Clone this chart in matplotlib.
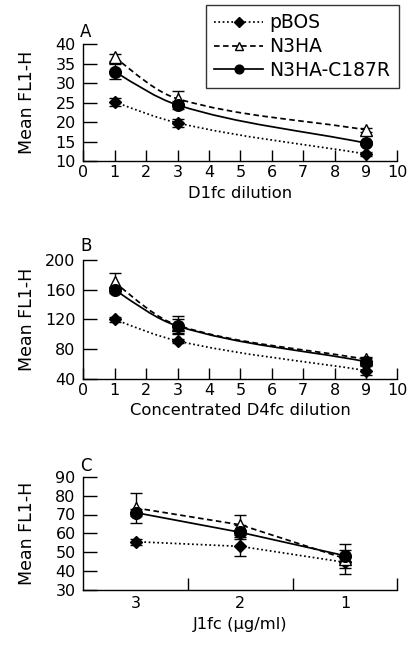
import matplotlib
matplotlib.use("Agg")
import matplotlib.pyplot as plt
import numpy as np
from matplotlib.path import Path
from matplotlib.patches import PathPatch
from matplotlib.lines import Line2D

plt.rcParams['font.family'] = ['DejaVu Sans']

series_names = ["pBOS", "N3HA", "N3HA-C187R"]

# Panel A
a_x = [1, 3, 9]
a_pbos = [25.2, 19.8, 11.8]
a_pbos_err = [1.1, 1.0, 0.6]
a_n3ha = [36.7, 26.0, 18.0]
a_n3ha_err = [0.9, 1.9, 0.5]
a_c187r = [33.0, 24.4, 14.6]
a_c187r_err = [1.9, 1.0, 0.6]

# Panel B
b_x = [1, 3, 9]
b_pbos = [120, 91, 51]
b_pbos_err = [3, 3, 6]
b_n3ha = [170, 112, 66]
b_n3ha_err = [12, 12, 3]
b_c187r = [160, 111, 63]
b_c187r_err = [4, 10, 5]

# Panel C
c_labels = ["3", "2", "1"]
c_pbos = [55.5, 53.0, 44.5]
c_pbos_err = [1.5, 5.1, 3.0]
c_n3ha = [73.5, 64.5, 46.5]
c_n3ha_err = [8.0, 5.2, 8.0]
c_c187r = [71.0, 60.5, 48.0]
c_c187r_err = [2.0, 3.8, 3.0]

styles = {
    "pBOS": dict(ls=(0, (1.0, 1.5)), marker='D', ms=6.3, mfc='black'),
    "N3HA": dict(ls=(0, (3.2, 2.0)), marker='^', ms=8, mfc='white'),
    "N3HA-C187R": dict(ls='-', marker='o', ms=8.4, mfc='black'),
}

W, H = 409, 652
fig = plt.figure(figsize=(W / 100, H / 100), dpi=100)

LW = 1.25
TICK_FS = 11.5
LABEL_FS = 11.8


def ax_rect(left, right, top, bottom):
    return [left / W, 1 - bottom / H, (right - left) / W, (bottom - top) / H]


def smooth_path(x, y):
    x = np.asarray(x, float)
    y = np.asarray(y, float)
    h = np.diff(x)
    d = np.diff(y) / h
    m = np.zeros_like(y)
    for i in range(1, len(x) - 1):
        w1 = 2 * h[i] + h[i - 1]
        w2 = h[i] + 2 * h[i - 1]
        m[i] = (w1 + w2) / (w1 / d[i - 1] + w2 / d[i])
    m0 = ((2 * h[0] + h[1]) * d[0] - h[0] * d[1]) / (h[0] + h[1])
    if np.sign(m0) != np.sign(d[0]):
        m0 = 0
    m[0] = m0
    m[-1] = d[-1]
    verts = [(x[0], y[0])]
    codes = [Path.MOVETO]
    for i in range(len(x) - 1):
        verts += [(x[i] + h[i] / 3, y[i] + m[i] * h[i] / 3),
                  (x[i + 1] - h[i] / 3, y[i + 1] - m[i + 1] * h[i] / 3),
                  (x[i + 1], y[i + 1])]
        codes += [Path.CURVE4] * 3
    return Path(verts, codes)


def draw_series(ax, x, y, err, name, smooth):
    st = styles[name]
    if smooth:
        ax.add_patch(PathPatch(smooth_path(x, y), fill=False, edgecolor='black',
                               lw=LW, ls=st['ls'], zorder=2))
    else:
        ax.plot(x, y, color='black', lw=LW, ls=st['ls'], zorder=2)
    ax.errorbar(x, y, yerr=err, fmt='none', ecolor='black', elinewidth=1.0,
                capsize=4.5, capthick=1.0, zorder=3)
    ax.plot(x, y, ls='none', marker=st['marker'], ms=st['ms'], mfc=st['mfc'],
            mec='black', mew=1.0, zorder=4)


def style_axes(ax):
    for s in ['top', 'right']:
        ax.spines[s].set_visible(False)
    for s in ['left', 'bottom']:
        ax.spines[s].set_linewidth(1.0)
    ax.tick_params(axis='y', direction='in', length=10, width=1.0, pad=5.5, labelsize=TICK_FS)
    ax.tick_params(axis='x', direction='in', length=8, width=1.0, pad=3, labelsize=TICK_FS)


# Panel A
axA = fig.add_axes(ax_rect(83.3, 397.4, 44.3, 161))
for name, y, e in zip(series_names, [a_pbos, a_n3ha, a_c187r], [a_pbos_err, a_n3ha_err, a_c187r_err]):
    draw_series(axA, a_x, y, e, name, True)
axA.set_xlim(0, 10)
axA.set_ylim(10, 40)
axA.set_xticks(range(0, 11))
axA.set_yticks(range(10, 41, 5))
style_axes(axA)
axA.set_xlabel("D1fc dilution", fontsize=LABEL_FS, labelpad=4)

# Panel B
axB = fig.add_axes(ax_rect(83.3, 397.4, 260, 378.7))
for name, y, e in zip(series_names, [b_pbos, b_n3ha, b_c187r], [b_pbos_err, b_n3ha_err, b_c187r_err]):
    draw_series(axB, b_x, y, e, name, True)
axB.set_xlim(0, 10)
axB.set_ylim(40, 200)
axB.set_xticks(range(0, 11))
axB.set_yticks(range(40, 201, 40))
style_axes(axB)
axB.set_xlabel("Concentrated D4fc dilution", fontsize=LABEL_FS, labelpad=4)

# Panel C
axC = fig.add_axes(ax_rect(83.3, 397.4, 477, 589.5))
c_pos = np.arange(len(c_labels)) + 0.5
for name, y, e in zip(series_names, [c_pbos, c_n3ha, c_c187r], [c_pbos_err, c_n3ha_err, c_c187r_err]):
    draw_series(axC, c_pos, y, e, name, False)
axC.set_xlim(0, 3)
axC.set_ylim(30, 90)
axC.set_yticks(range(30, 91, 10))
style_axes(axC)
axC.set_xticks([1, 2, 3])
axC.set_xticklabels([])
axC.set_xticks(c_pos, minor=True)
axC.set_xticklabels(c_labels, minor=True)
axC.tick_params(axis='x', which='minor', length=0, pad=5, labelsize=TICK_FS)
axC.tick_params(axis='x', which='major', length=9)
axC.set_xlabel("J1fc (\u00b5g/ml)", fontsize=LABEL_FS, labelpad=4)

# y labels and panel letters
for ax, letter, ybase in [(axA, 'A', 37), (axB, 'B', 251), (axC, 'C', 471)]:
    pos = ax.get_position()
    fig.text(27 / W, (pos.y0 + pos.y1) / 2, "Mean FL1-H", rotation=90,
             ha='center', va='center', fontsize=12.5)
    fig.text(80 / W, 1 - ybase / H, letter, ha='left', va='baseline', fontsize=12)

# Legend
handles = [Line2D([], [], color='black', lw=LW, ls=styles[n]['ls'], marker=styles[n]['marker'],
                  ms=styles[n]['ms'] * 0.75, mfc=styles[n]['mfc'], mec='black') for n in series_names]
leg = fig.legend(handles, series_names, loc='upper right', bbox_to_anchor=(399 / W, 1 - 5 / H),
                 frameon=True, fancybox=False, edgecolor='black', fontsize=13.5,
                 handlelength=2.6, handletextpad=0.35, borderpad=0.45, labelspacing=0.25,
                 borderaxespad=0)
leg.get_frame().set_linewidth(1.0)

fig.savefig("out.png", dpi=100)
